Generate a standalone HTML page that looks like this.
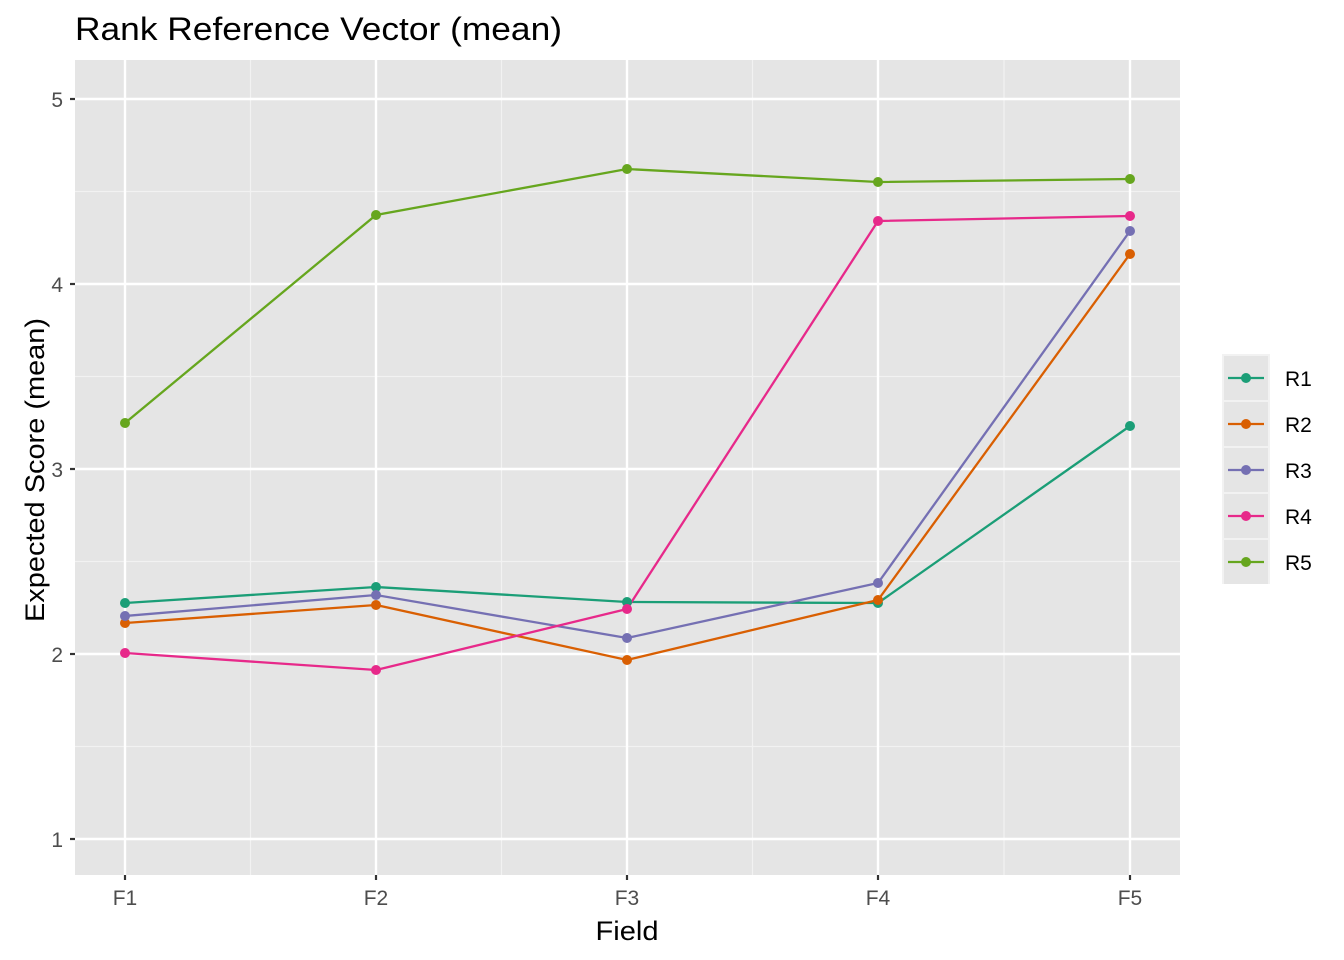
<!DOCTYPE html>
<html><head><meta charset="utf-8"><style>body{margin:0;background:#fff}svg{display:block}</style></head><body>
<svg width="1344" height="960" xmlns="http://www.w3.org/2000/svg" font-family="Liberation Sans, Arial, sans-serif">
<rect x="0" y="0" width="1344" height="960" fill="#fff"/>
<text x="75" y="40" font-size="32" fill="#000" textLength="487" lengthAdjust="spacingAndGlyphs">Rank Reference Vector (mean)</text>
<rect x="75" y="60" width="1105" height="815" fill="#E5E5E5"/>
<g stroke="#F2F2F2" stroke-width="1.2">
<line x1="75" x2="1180" y1="191.5" y2="191.5"/><line x1="75" x2="1180" y1="376.5" y2="376.5"/>
<line x1="75" x2="1180" y1="561.5" y2="561.5"/><line x1="75" x2="1180" y1="746.5" y2="746.5"/>
<line y1="60" y2="875" x1="250.5" x2="250.5"/><line y1="60" y2="875" x1="501.5" x2="501.5"/>
<line y1="60" y2="875" x1="752.5" x2="752.5"/><line y1="60" y2="875" x1="1004" x2="1004"/>
</g>
<g stroke="#fff" stroke-width="2.4">
<line x1="75" x2="1180" y1="99" y2="99"/><line x1="75" x2="1180" y1="284" y2="284"/>
<line x1="75" x2="1180" y1="469" y2="469"/><line x1="75" x2="1180" y1="654" y2="654"/>
<line x1="75" x2="1180" y1="839" y2="839"/>
<line y1="60" y2="875" x1="125" x2="125"/><line y1="60" y2="875" x1="376" x2="376"/>
<line y1="60" y2="875" x1="627" x2="627"/><line y1="60" y2="875" x1="878" x2="878"/>
<line y1="60" y2="875" x1="1130" x2="1130"/>
</g>
<g stroke="#333" stroke-width="2.2">
<line x1="70" x2="75" y1="99" y2="99"/><line x1="70" x2="75" y1="284" y2="284"/><line x1="70" x2="75" y1="469" y2="469"/><line x1="70" x2="75" y1="654" y2="654"/><line x1="70" x2="75" y1="839" y2="839"/>
<line y1="875" y2="880" x1="125" x2="125"/><line y1="875" y2="880" x1="376" x2="376"/><line y1="875" y2="880" x1="627" x2="627"/><line y1="875" y2="880" x1="878" x2="878"/><line y1="875" y2="880" x1="1130" x2="1130"/>
</g>
<g font-size="21" fill="#4D4D4D" text-anchor="end">
<text x="63" y="107">5</text><text x="63" y="292">4</text><text x="63" y="477">3</text><text x="63" y="662">2</text><text x="63" y="847">1</text>
</g>
<g font-size="21" fill="#4D4D4D" text-anchor="middle">
<text x="125" y="905">F1</text><text x="376" y="905">F2</text><text x="627" y="905">F3</text><text x="878" y="905">F4</text><text x="1130" y="905">F5</text>
</g>
<text x="627" y="940" font-size="27" text-anchor="middle" textLength="63" lengthAdjust="spacingAndGlyphs">Field</text>
<text transform="translate(44,470) rotate(-90)" font-size="27" text-anchor="middle" textLength="304" lengthAdjust="spacingAndGlyphs">Expected Score (mean)</text>
<g fill="none" stroke-width="2.3">
<polyline stroke="#1B9E77" points="125,603 376,587 627,602 878,603 1130,426"/>
<polyline stroke="#D95F02" points="125,623 376,605 627,660 878,600 1130,254"/>
<polyline stroke="#7570B3" points="125,616 376,595 627,638 878,583 1130,231"/>
<polyline stroke="#E7298A" points="125,653 376,670 627,609 878,221 1130,216"/>
<polyline stroke="#66A61E" points="125,423 376,215 627,169 878,182 1130,179"/>
</g>
<g fill="#1B9E77"><circle cx="125" cy="603" r="5"/><circle cx="376" cy="587" r="5"/><circle cx="627" cy="602" r="5"/><circle cx="878" cy="603" r="5"/><circle cx="1130" cy="426" r="5"/></g>
<g fill="#D95F02"><circle cx="125" cy="623" r="5"/><circle cx="376" cy="605" r="5"/><circle cx="627" cy="660" r="5"/><circle cx="878" cy="600" r="5"/><circle cx="1130" cy="254" r="5"/></g>
<g fill="#7570B3"><circle cx="125" cy="616" r="5"/><circle cx="376" cy="595" r="5"/><circle cx="627" cy="638" r="5"/><circle cx="878" cy="583" r="5"/><circle cx="1130" cy="231" r="5"/></g>
<g fill="#E7298A"><circle cx="125" cy="653" r="5"/><circle cx="376" cy="670" r="5"/><circle cx="627" cy="609" r="5"/><circle cx="878" cy="221" r="5"/><circle cx="1130" cy="216" r="5"/></g>
<g fill="#66A61E"><circle cx="125" cy="423" r="5"/><circle cx="376" cy="215" r="5"/><circle cx="627" cy="169" r="5"/><circle cx="878" cy="182" r="5"/><circle cx="1130" cy="179" r="5"/></g>
<rect x="1222" y="354" width="48" height="230" fill="#F2F2F2"/>
<g stroke-width="2.3">
<rect x="1224" y="356" width="44" height="44" fill="#E5E5E5"/><line x1="1228" x2="1264" y1="378" y2="378" stroke="#1B9E77"/><circle cx="1246" cy="378" r="5" fill="#1B9E77"/>
<rect x="1224" y="402" width="44" height="44" fill="#E5E5E5"/><line x1="1228" x2="1264" y1="424" y2="424" stroke="#D95F02"/><circle cx="1246" cy="424" r="5" fill="#D95F02"/>
<rect x="1224" y="448" width="44" height="44" fill="#E5E5E5"/><line x1="1228" x2="1264" y1="470" y2="470" stroke="#7570B3"/><circle cx="1246" cy="470" r="5" fill="#7570B3"/>
<rect x="1224" y="494" width="44" height="44" fill="#E5E5E5"/><line x1="1228" x2="1264" y1="516" y2="516" stroke="#E7298A"/><circle cx="1246" cy="516" r="5" fill="#E7298A"/>
<rect x="1224" y="540" width="44" height="44" fill="#E5E5E5"/><line x1="1228" x2="1264" y1="562" y2="562" stroke="#66A61E"/><circle cx="1246" cy="562" r="5" fill="#66A61E"/>
</g>
<g font-size="21" fill="#000">
<text x="1285" y="386">R1</text><text x="1285" y="432">R2</text><text x="1285" y="478">R3</text><text x="1285" y="524">R4</text><text x="1285" y="570">R5</text>
</g>
</svg>
</body></html>
